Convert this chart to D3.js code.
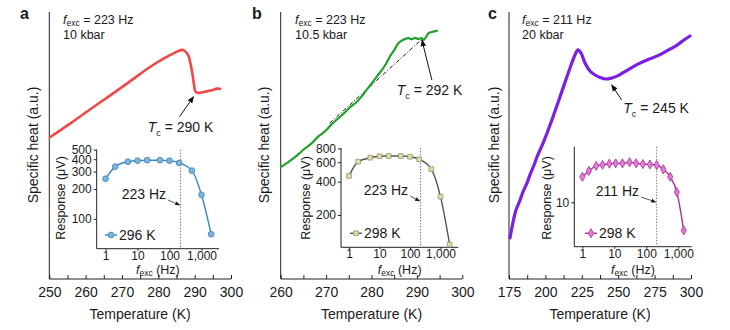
<!DOCTYPE html>
<html>
<head>
<meta charset="utf-8">
<script src="https://cdn.jsdelivr.net/npm/d3@7"></script>
<style>
  body { margin: 0; background: #fff; }
  text { font-family: "Liberation Sans", Arial, Helvetica, sans-serif; fill: #1a1a1a; }
  .domain, .tick line { stroke: #222; }
</style>
</head>
<body>
<div id="chart"></div>
<script>
// ---- main curves: temperature (K) vs specific heat (a.u., 0-100) ----
var tempA = [250.2, 255.7, 261.2, 266.7, 272.2, 277.7, 281.8, 284.6, 286.4, 287.3, 288.2, 288.7, 289.3, 289.8, 290.2, 290.9, 292.3, 293.7, 295.0, 296.1, 297.0];
var heatA = [53.1, 58.2, 63.5, 68.7, 74.0, 79.4, 82.8, 84.8, 85.8, 85.4, 83.9, 81.6, 77.5, 73.0, 70.2, 69.7, 70.0, 70.4, 70.8, 71.3, 71.2];

var tempB = [260.1, 261.5, 263.2, 265.0, 266.8, 268.3, 269.8, 271.2, 272.7, 274.0, 275.3, 276.6, 277.8, 279.0, 280.1, 281.2, 282.3, 283.2, 284.1, 285.0, 285.9, 286.9, 288.1, 288.9, 289.6, 290.3, 291.1, 291.4, 292.0, 292.5, 293.3, 294.4];
var heatB = [42.0, 43.6, 45.7, 48.4, 50.8, 53.4, 55.4, 57.9, 60.2, 62.2, 64.4, 66.1, 68.3, 71.0, 73.4, 75.9, 78.3, 80.6, 83.5, 85.7, 88.3, 89.5, 90.2, 89.8, 90.3, 89.9, 90.2, 89.5, 90.6, 92.0, 92.5, 92.9];

var tempC = [175.7, 177.8, 179.8, 182.6, 184.6, 187.4, 189.4, 192.2, 194.2, 198.4, 203.2, 210.0, 216.9, 220.3, 222.4, 224.5, 227.2, 230.6, 234.1, 237.5, 241.6, 245.7, 249.2, 254.0, 258.1, 263.6, 269.8, 275.3, 280.8, 285.6, 290.4, 295.2, 299.3];
var heatC = [15.4, 21.4, 25.8, 29.6, 32.6, 36.0, 39.0, 42.7, 45.7, 50.9, 57.7, 68.2, 79.0, 83.9, 85.8, 84.6, 80.9, 77.9, 76.4, 75.5, 74.9, 75.3, 76.0, 77.5, 78.8, 80.5, 82.0, 83.2, 84.6, 86.1, 87.6, 89.5, 91.0];

// ---- inset curves: excitation frequency (Hz) vs response (uV) ----
var freqA = [1, 2, 5, 10, 20, 50, 100, 200, 500, 1000, 2000];
var respA = [254, 337, 378, 387, 391, 391, 387, 367, 307, 175, 70];
var freqB = [1, 2, 5, 10, 20, 50, 100, 200, 500, 1000, 2000];
var respB = [451, 607, 659, 679, 683, 683, 673, 638, 521, 293, 108];
var freqC = [1, 1.6, 2.7, 4.3, 7, 11, 18, 30, 48, 78, 130, 211, 340, 560, 900, 1480];
var respC = [14.8, 16.2, 17.5, 17.8, 18.1, 18.2, 18.2, 18.5, 18.2, 18.0, 17.9, 17.7, 16.6, 14.8, 11.7, 6.5];

// ---- ticks and labels ----
var xTicksA = [250, 255, 260, 265, 270, 275, 280, 285, 290, 295, 300];
var xTicksB = [260, 265, 270, 275, 280, 285, 290, 295, 300];
var xTicksC = [175, 187.5, 200, 212.5, 225, 237.5, 250, 262.5, 275, 287.5, 300];
var insetXTicks = [1, 10, 100, 1000];
var insetYTicksA = [100, 200, 300, 400, 500];
var insetYTicksB = [200, 400, 600, 800];
var insetYTicksC = [10];
var letters = ["a", "b", "c"];
var fexc = [223, 223, 211];
var pressures = ["10 kbar", "10.5 kbar", "20 kbar"];
var tcValues = [290, 292, 245];
var legendTemps = ["296 K", "298 K", "298 K"];

var width = 730, height = 330;
var svg = d3.select("#chart").append("svg")
  .attr("width", width).attr("height", height);

svg.append("defs").append("marker")
  .attr("id", "arrow")
  .attr("viewBox", "0 0 10 10")
  .attr("refX", 9).attr("refY", 5)
  .attr("markerWidth", 7).attr("markerHeight", 7)
  .attr("orient", "auto-start-reverse")
  .append("path").attr("d", "M0,1 L10,5 L0,9 z").attr("fill", "#111");

var panels = [
  { t: tempA, h: heatA, f: freqA, r: respA, xt: xTicksA, yt: insetYTicksA,
    xd: [250, 300], xr: [49.3, 231], label: 10, color: "#ee4848", lw: 2.6,
    ix: [0.53, 3524], ixr: [96.7, 219], iy: [50, 500], iyr: [248.7, 149.6],
    icol: "#3a86bf", mfill: "#7fb6e0", mstroke: "#3a7fb3", shape: d3.symbolCircle, msize: 26,
    tcTip: [289.7, 68.3], tcTail: [-14, 20], tcText: [147.7, 131.7],
    ylab: 33, rlab: 61, hdr: 63, lx: 20, legX: 105, legY: 235, noteX: 166, noteY: 199 },
  { t: tempB, h: heatB, f: freqB, r: respB, xt: xTicksB, yt: insetYTicksB,
    xd: [260, 300], xr: [280.7, 462.3], label: 10, color: "#22a02a", lw: 2.2,
    ix: [0.547, 3835], ixr: [341, 458.3], iy: [102, 807], iyr: [247.3, 148],
    icol: "#555", mfill: "#dcdcae", mstroke: "#96966a", shape: d3.symbolSquare, msize: 22,
    tcTip: [291.1, 89.5], tcTail: [10, 40], tcText: [396.7, 95],
    ylab: 264, rlab: 305.5, hdr: 295, lx: 252, legX: 350, legY: 233.3, noteX: 408, noteY: 195 },
  { t: tempC, h: heatC, f: freqC, r: respC, xt: xTicksC, yt: insetYTicksC,
    xd: [175, 300], xr: [509, 691], label: 25, color: "#7b1fe3", lw: 3.2,
    ix: [0.562, 2624], ixr: [574.3, 691.7], iy: [5.06, 23.5], iyr: [246.7, 146.7],
    icol: "#a8308a", mfill: "#e27ae0", mstroke: "#a8308a", shape: d3.symbolDiamond, msize: 24,
    tcTip: [245.5, 72.7], tcTail: [10, 15], tcText: [623.3, 113.3],
    ylab: 494, rlab: 546.7, hdr: 522, lx: 488, legX: 585, legY: 233.3, noteX: 639, noteY: 196 }
];

panels.forEach(function(p, i) {
  var g = svg.append("g");
  var x = d3.scaleLinear().domain(p.xd).range(p.xr);
  var y = d3.scaleLinear().domain([0, 100]).range([279, 12]);

  // main axes
  var xAxis = d3.axisBottom(x).tickValues(p.xt).tickSizeInner(-4).tickSizeOuter(0)
    .tickFormat(function(d) { return d % p.label === 0 ? d : ""; });
  var ax = g.append("g").attr("transform", "translate(0,279)").call(xAxis);
  ax.selectAll("text").attr("y", 8).attr("dy", "0.71em").style("font-size", "14px");
  ax.select(".domain").attr("d", "M" + p.xr[0] + ",0H" + p.xr[1]);
  g.append("line").attr("x1", p.xr[0]).attr("x2", p.xr[0]).attr("y1", 12).attr("y2", 279)
    .attr("stroke", "#222");

  g.append("text").attr("x", (p.xr[0] + p.xr[1]) / 2).attr("y", 319)
    .attr("text-anchor", "middle").style("font-size", "14px")
    .style("font-family", "'Liberation Sans Narrow', 'Liberation Sans', Arial, sans-serif")
    .text("Temperature (K)");
  g.append("text").attr("transform", "translate(" + p.ylab + ",145) rotate(-90)")
    .attr("text-anchor", "middle").attr("dy", "0.35em").style("font-size", "14px")
    .text("Specific heat (a.u.)");

  g.append("text").attr("x", p.lx).attr("y", 19).style("font-size", "16px")
    .style("font-weight", "bold").text(letters[i]);

  var hd = g.append("text").attr("x", p.hdr).attr("y", 23.5).style("font-size", "12.5px");
  hd.append("tspan").style("font-style", "italic").text("f");
  hd.append("tspan").attr("dy", 2.5).style("font-size", "8.5px").text("exc");
  hd.append("tspan").attr("dy", -2.5).text(" = " + fexc[i] + " Hz");
  g.append("text").attr("x", p.hdr).attr("y", 39.3).style("font-size", "12.5px").text(pressures[i]);

  // dash-dot baseline in panel b
  if (i === 1) {
    g.append("line").attr("x1", x(270.8)).attr("y1", y(58.4)).attr("x2", x(291.1)).attr("y2", y(89.8))
      .attr("stroke", "#111").attr("stroke-width", 1).attr("stroke-dasharray", "4,2,1,2");
  }

  var line = d3.line().x(function(d) { return x(d[0]); }).y(function(d) { return y(d[1]); })
    .curve(d3.curveCatmullRom.alpha(0.5));
  g.append("path").datum(d3.zip(p.t, p.h)).attr("d", line)
    .attr("fill", "none").attr("stroke", p.color).attr("stroke-width", p.lw)
    .attr("stroke-linejoin", "round").attr("stroke-linecap", "round");

  // Tc annotation
  var tx = x(p.tcTip[0]), ty = y(p.tcTip[1]);
  g.append("line").attr("x1", tx + p.tcTail[0]).attr("y1", ty + p.tcTail[1])
    .attr("x2", tx).attr("y2", ty).attr("stroke", "#111").attr("stroke-width", 1)
    .attr("marker-end", "url(#arrow)");
  var tc = g.append("text").attr("x", p.tcText[0]).attr("y", p.tcText[1]).style("font-size", "14px");
  tc.append("tspan").style("font-style", "italic").text("T");
  tc.append("tspan").attr("dy", 4).style("font-size", "9px").text("c");
  tc.append("tspan").attr("dy", -4).text(" = " + tcValues[i] + " K");

  // ---- inset ----
  var ix = d3.scaleLog().domain(p.ix).range(p.ixr);
  var iy = d3.scaleLog().domain(p.iy).range(p.iyr);
  var ixAxis = d3.axisBottom(ix).tickValues(insetXTicks).tickSize(2).tickFormat(d3.format(","));
  var iax = g.append("g").attr("transform", "translate(0," + p.iyr[0] + ")").call(ixAxis);
  iax.select(".domain").attr("d", "M" + p.ixr[0] + ",0H" + p.ixr[1]);
  iax.selectAll("text").style("font-size", "12px").attr("y", 2.5);
  var iyAxis = d3.axisLeft(iy).tickValues(p.yt).tickSize(3).tickFormat(d3.format("d"));
  var iay = g.append("g").attr("transform", "translate(" + p.ixr[0] + ",0)").call(iyAxis);
  iay.select(".domain").attr("d", "M0," + p.iyr[1] + "V" + p.iyr[0]);
  iay.selectAll("text").style("font-size", "12px").attr("x", -5);

  var ft = g.append("text").attr("x", (p.ixr[0] + p.ixr[1]) / 2).attr("y", 273.5)
    .attr("text-anchor", "middle").style("font-size", "12.5px");
  ft.append("tspan").style("font-style", "italic").text("f");
  ft.append("tspan").attr("dy", 2.5).style("font-size", "8.5px").text("exc");
  ft.append("tspan").attr("dy", -2.5).text(" (Hz)");

  g.append("text").attr("transform", "translate(" + p.rlab + ",198) rotate(-90)")
    .attr("text-anchor", "middle").attr("dy", "0.35em").style("font-size", "12.5px")
    .text("Response (\u03bcV)");

  // dotted marker at excitation frequency
  var fx = ix(fexc[i]);
  g.append("line").attr("x1", fx).attr("x2", fx).attr("y1", p.iyr[1]).attr("y2", p.iyr[0])
    .attr("stroke", "#777").attr("stroke-width", 1).attr("stroke-dasharray", "1.5,1.5");
  g.append("text").attr("x", p.noteX).attr("y", p.noteY).attr("text-anchor", "end")
    .style("font-size", "14px").text(fexc[i] + " Hz");
  g.append("line").attr("x1", p.noteX + 2).attr("y1", p.noteY + 1)
    .attr("x2", fx - 1).attr("y2", p.noteY + 6).attr("stroke", "#111").attr("stroke-width", 0.7)
    .attr("marker-end", "url(#arrow)");

  var iline = d3.line().x(function(d) { return ix(d[0]); }).y(function(d) { return iy(d[1]); })
    .curve(d3.curveMonotoneX);
  g.append("path").datum(d3.zip(p.f, p.r)).attr("d", iline)
    .attr("fill", "none").attr("stroke", p.icol).attr("stroke-width", 1.4);
  var sym = d3.symbol().type(p.shape).size(p.msize);
  g.selectAll(".pt").data(d3.zip(p.f, p.r)).enter().append("path")
    .attr("transform", function(d) { return "translate(" + ix(d[0]) + "," + iy(d[1]) + ")"; })
    .attr("d", sym).attr("fill", p.mfill).attr("stroke", p.mstroke).attr("stroke-width", 0.8);

  // legend
  g.append("line").attr("x1", p.legX).attr("x2", p.legX + 12).attr("y1", p.legY).attr("y2", p.legY)
    .attr("stroke", p.icol).attr("stroke-width", 1.4);
  g.append("path").attr("transform", "translate(" + (p.legX + 6) + "," + p.legY + ")")
    .attr("d", sym).attr("fill", p.mfill).attr("stroke", p.mstroke).attr("stroke-width", 0.8);
  g.append("text").attr("x", p.legX + 14).attr("y", p.legY + 5).style("font-size", "14px")
    .text(legendTemps[i]);
});
</script>
</body>
</html>
